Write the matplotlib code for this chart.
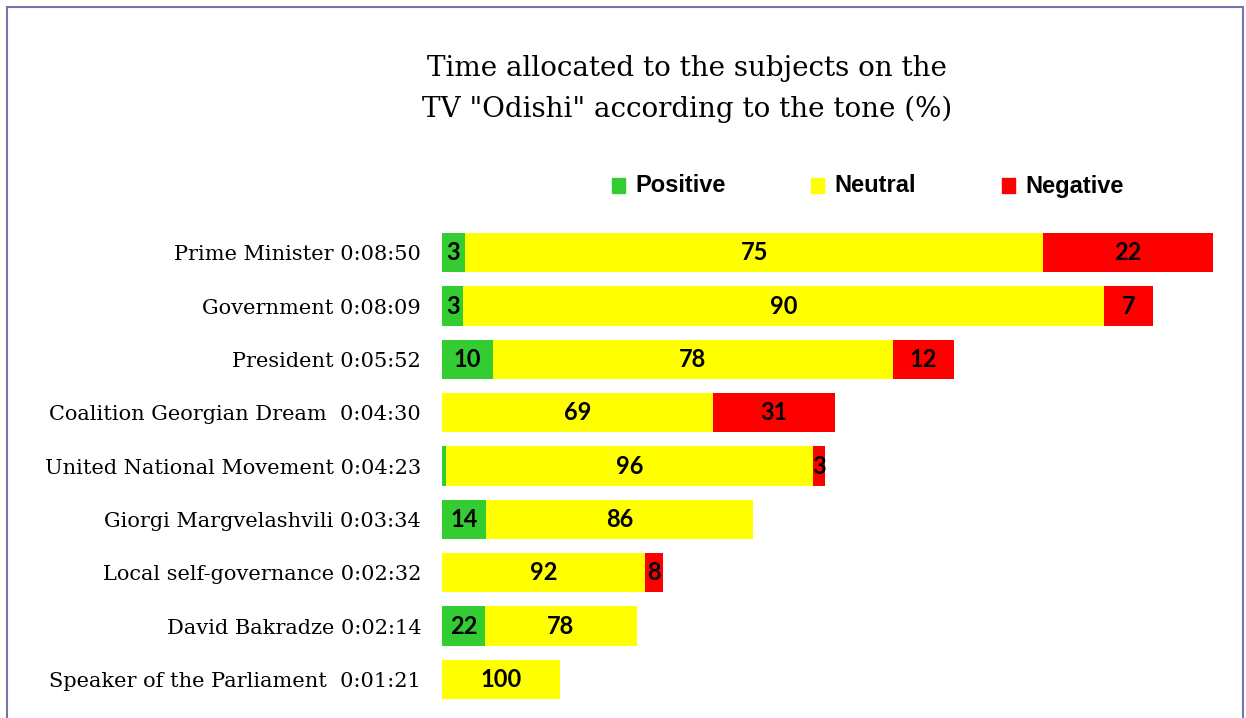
import matplotlib
matplotlib.use('Agg')
import matplotlib.pyplot as plt
from matplotlib.patches import Rectangle
import numpy as np

subjects = ['Prime Minister 0:08:50', 'Government 0:08:09', 'President 0:05:52',
            'Coalition Georgian Dream  0:04:30', 'United National Movement 0:04:23',
            'Giorgi Margvelashvili 0:03:34', 'Local self-governance 0:02:32',
            'David Bakradze 0:02:14', 'Speaker of the Parliament  0:01:21']
seconds = [530, 489, 352, 270, 263, 214, 152, 134, 81]
positive = [3, 3, 10, 0, 1, 14, 0, 22, 0]
neutral = [75, 90, 78, 69, 96, 86, 92, 78, 100]
negative = [22, 7, 12, 31, 3, 0, 8, 0, 0]

tones = ['Positive', 'Neutral', 'Negative']
colors = ['#33CC33', '#FFFF00', '#FF0000']

fig = plt.figure(figsize=(12.46, 7.18), dpi=100)
ax = fig.add_axes([442/1246, 1 - 706/718, 790/1246, 480/718])

y = np.arange(len(subjects))
secs = np.array(seconds, dtype=float)
left = np.zeros(len(subjects))
for pcts, col in zip([positive, neutral, negative], colors):
	pcts = np.array(pcts, dtype=float)
	w = secs * pcts / 100
	ax.barh(y, w, left=left, height=0.74, color=col)
	for yi, li, wi, p in zip(y, left, w, pcts):
		if p >= 2:
			ax.text(li + wi / 2, yi, '%d' % p, ha='center', va='center',
			        fontsize=17, fontweight='bold', family='Lato')
	left = left + w

ax.set_xlim(0, 790 / 1.4547)
ax.set_ylim(len(subjects) - 0.5, -0.5)
ax.set_yticks(y)
ax.set_yticklabels(subjects, family='DejaVu Serif', fontsize=15)
ax.tick_params(axis='y', length=0, pad=15)
ax.set_xticks([])
for s in ax.spines.values():
	s.set_visible(False)

fig.text(687/1246, 1 - 89/718, 'Time allocated to the subjects on the\nTV "Odishi" according to the tone (%)',
         ha='center', va='center', family='DejaVu Serif', fontsize=20, linespacing=1.6)

# legend drawn by hand to keep the uneven spacing
leg_x = [612, 811, 1002]
for lx, name, col in zip(leg_x, tones, colors):
	fig.patches.append(Rectangle((lx/1246, 1 - 193/718), 13/1246, 15/718,
	                             transform=fig.transFigure, color=col))
	fig.text((lx + 23)/1246, 1 - 186/718, name, ha='left', va='center',
	         family='Liberation Sans', fontweight='bold', fontsize=17)

fig.patches.append(Rectangle((7/1246, -0.05), 1236/1246, 1.05 - 7/718, transform=fig.transFigure,
                             fill=False, edgecolor='#7474AE', linewidth=1.5))

plt.savefig('out.png', dpi=100)
